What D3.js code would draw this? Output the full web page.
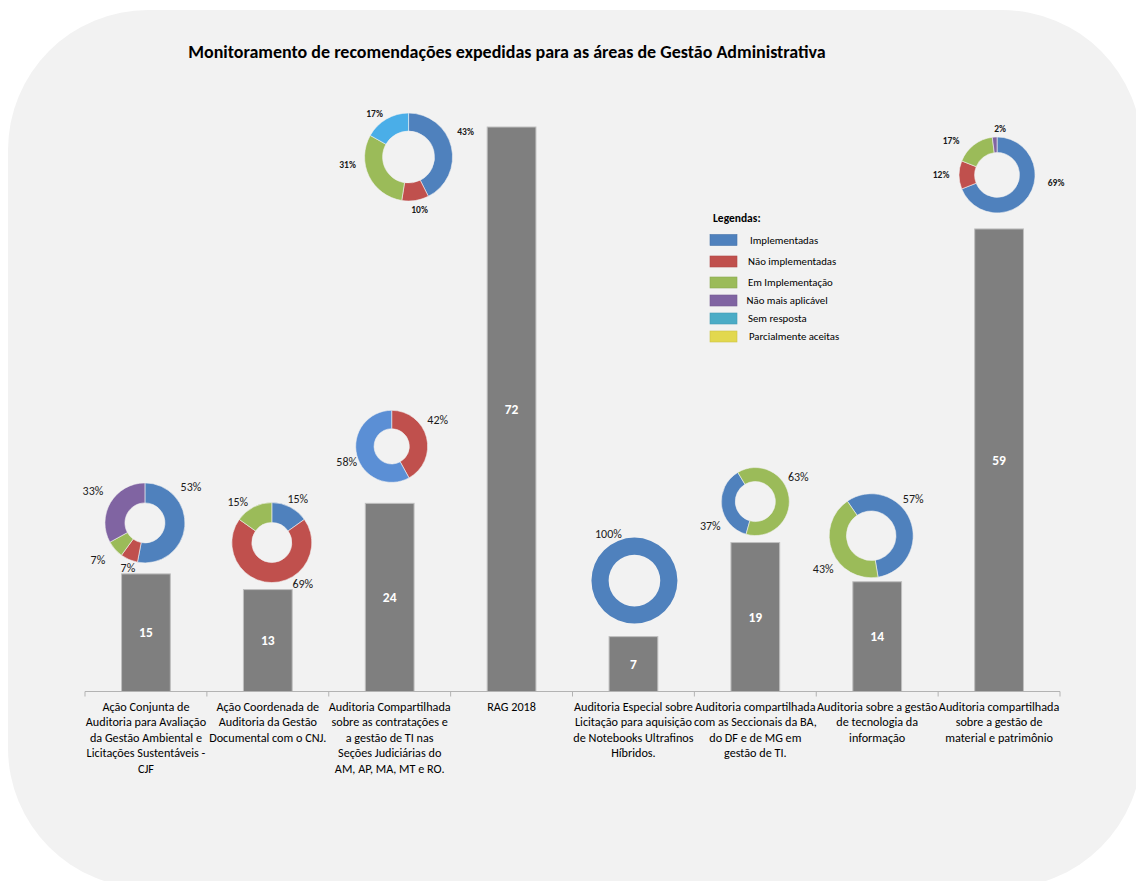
<!DOCTYPE html>
<html lang="pt-BR">
<head>
<meta charset="utf-8">
<title>Monitoramento de recomendações</title>
<script src="https://cdn.jsdelivr.net/npm/d3@7"></script>
<style>
  html, body { margin: 0; padding: 0; background: #ffffff; }
  svg { display: block; font-family: Carlito, Lato, "Open Sans", sans-serif; }
</style>
</head>
<body>
<svg id="chart" width="1136" height="881"></svg>
<script>
// ---- Data -------------------------------------------------------------
const titleText = "Monitoramento de recomendações expedidas para as áreas de Gestão Administrativa";

const categoryLines = [
  ["Ação Conjunta de", "Auditoria para Avaliação", "da Gestão Ambiental e", "Licitações Sustentáveis -", "CJF"],
  ["Ação Coordenada de", "Auditoria da Gestão", "Documental com o CNJ."],
  ["Auditoria Compartilhada", "sobre as contratações e", "a gestão de TI nas", "Seções Judiciárias do", "AM, AP, MA, MT e RO."],
  ["RAG 2018"],
  ["Auditoria Especial sobre", "Licitação para aquisição", "de Notebooks Ultrafinos", "Híbridos."],
  ["Auditoria compartilhada", "com as Seccionais da BA,", "do DF e de MG em", "gestão de TI."],
  ["Auditoria sobre a gestão", "de tecnologia da", "informação"],
  ["Auditoria compartilhada", "sobre a gestão de", "material e patrimônio"]
];

// number of recommendations per audit
const totals = [15, 13, 24, 72, 7, 19, 14, 59];

const statusNames = [
  "Implementadas",
  "Não implementadas",
  "Em Implementação",
  "Não mais aplicável",
  "Sem resposta",
  "Parcialmente aceitas"
];

// status breakdown (%) per audit, as [status index, percent] in drawing order
const breakdown = [
  [[0, 53], [1, 7], [2, 7], [3, 33]],
  [[0, 15], [1, 69], [2, 15]],
  [[1, 42], [0, 58]],
  [[0, 43], [1, 10], [2, 31], [4, 17]],
  [[0, 100]],
  [[0, 37], [2, 63]],
  [[0, 57], [2, 43]],
  [[0, 69], [1, 12], [2, 17], [3, 2]]
];

// ---- Styles & layout --------------------------------------------------
const statusColors = ["#4f81bd", "#c0504d", "#9bbb59", "#8064a2", "#4bacc6", "#e2d84e"];
// a few donuts were coloured with a slightly different shade (key: donut-slice)
const shadeOverride = { "2-1": "#5b8fd5", "3-3": "#4aaee8" };

// donut layout: dx from band centre, gap above bar top, outer radius, inner ratio, start angle (deg), bold labels
const donutLayout = [
  { dx: -1,   gap: 11,  r: 40, inner: 0.5,  start: 0,     bold: false },
  { dx: 4,    gap: 7,   r: 40, inner: 0.5,  start: 0,     bold: false },
  { dx: 2,    gap: 21,  r: 36, inner: 0.49, start: 0,     bold: false },
  { dx: -103, gap: -74, r: 44, inner: 0.59, start: 0,     bold: true  },
  { dx: 1,    gap: 13,  r: 43, inner: 0.6,  start: 0,     bold: false },
  { dx: 0,    gap: 7,   r: 34, inner: 0.59, start: 195.8, bold: false },
  { dx: -6,   gap: 4,   r: 42, inner: 0.59, start: -34.6, bold: false },
  { dx: -2,   gap: 16,  r: 38, inner: 0.59, start: 0,     bold: true  }
];

// label offsets from each donut's centre, same order as the breakdown
const labelOffsets = [
  [[46, -36], [-17, 45], [-47, 37], [-52, -32]],
  [[26, -44], [31, 41], [-34, -41]],
  [[46, -27], [-45, 15]],
  [[57, -25], [11, 53], [-61, 8], [-34, -43]],
  [[-26, -47]],
  [[-45, 24], [43, -25]],
  [[42, -37], [-48, 33]],
  [[59, 8], [-56, 0], [-46, -34], [3, -46]]
];

const svg = d3.select("#chart");

// rounded panel behind the chart
svg.append("rect")
  .attr("x", 8).attr("y", 10)
  .attr("width", 1134).attr("height", 878)
  .attr("rx", 140).attr("ry", 140)
  .attr("fill", "#f2f2f2");

// title
svg.append("text")
  .attr("x", 507).attr("y", 58)
  .attr("text-anchor", "middle")
  .attr("font-weight", "bold")
  .attr("font-size", 18)
  .attr("fill", "#000")
  .text(titleText);

// ---- Scales -----------------------------------------------------------
const idx = d3.range(totals.length);
const x = d3.scaleBand()
  .domain(idx)
  .range([85, 1060])
  .paddingInner(0.6)
  .paddingOuter(0.3);
const step = x.step();
const bandCenter = i => x(i) + x.bandwidth() / 2;

const y = d3.scaleLinear()
  .domain([0, 80])
  .range([691.5, 64.3]);

// ---- Bars -------------------------------------------------------------
const bars = svg.append("g");
bars.selectAll("rect")
  .data(totals)
  .join("rect")
  .attr("x", (d, i) => x(i))
  .attr("y", d => y(d))
  .attr("width", x.bandwidth())
  .attr("height", d => y(0) - y(d))
  .attr("fill", "#7f7f7f")
  .attr("stroke", "#bfbfbf")
  .attr("stroke-width", 1);

bars.selectAll("text")
  .data(totals)
  .join("text")
  .attr("x", (d, i) => bandCenter(i))
  .attr("y", d => (y(d) + y(0)) / 2)
  .attr("dy", "0.35em")
  .attr("text-anchor", "middle")
  .attr("font-weight", "bold")
  .attr("font-size", 13.5)
  .attr("fill", "#ffffff")
  .text(d => d);

// ---- Category axis ----------------------------------------------------
const axisG = svg.append("g");
const x0 = x.range()[0], x1 = x.range()[1];
axisG.append("line")
  .attr("x1", x0).attr("x2", x1)
  .attr("y1", y(0)).attr("y2", y(0))
  .attr("stroke", "#b3b3b3").attr("stroke-width", 1);
axisG.selectAll("line.tick")
  .data(d3.range(totals.length + 1))
  .join("line")
  .attr("class", "tick")
  .attr("x1", k => x0 + k * step).attr("x2", k => x0 + k * step)
  .attr("y1", y(0)).attr("y2", y(0) + 5)
  .attr("stroke", "#b3b3b3").attr("stroke-width", 1);

const catText = axisG.selectAll("text.cat")
  .data(categoryLines)
  .join("text")
  .attr("class", "cat")
  .attr("text-anchor", "middle")
  .attr("font-size", 12.2)
  .attr("fill", "#000");
catText.selectAll("tspan")
  .data((lines, i) => lines.map(l => ({ l, i })))
  .join("tspan")
  .attr("x", d => bandCenter(d.i))
  .attr("y", (d, j) => 710.5 + j * 15.5)
  .text(d => d.l);

// ---- Donuts -----------------------------------------------------------
const deg = Math.PI / 180;
const donuts = svg.append("g");
breakdown.forEach((slices, i) => {
  const L = donutLayout[i];
  const cx = bandCenter(i) + L.dx;
  const cy = y(totals[i]) - L.gap - L.r;
  const g = donuts.append("g").attr("transform", `translate(${cx},${cy})`);

  const pie = d3.pie()
    .sort(null)
    .value(d => d[1])
    .startAngle(L.start * deg)
    .endAngle(L.start * deg + 2 * Math.PI);
  const arc = d3.arc().innerRadius(L.r * L.inner).outerRadius(L.r);

  g.selectAll("path")
    .data(pie(slices))
    .join("path")
    .attr("d", arc)
    .attr("fill", (d, j) => shadeOverride[`${i}-${j}`] || statusColors[d.data[0]])
    .attr("stroke", slices.length > 1 ? "#f2f2f2" : "none")
    .attr("stroke-width", 0.6);

  g.selectAll("text")
    .data(slices)
    .join("text")
    .attr("x", (d, j) => labelOffsets[i][j][0])
    .attr("y", (d, j) => labelOffsets[i][j][1])
    .attr("dy", "0.35em")
    .attr("text-anchor", "middle")
    .attr("font-size", L.bold ? 9.5 : 12)
    .attr("font-weight", L.bold ? "bold" : "normal")
    .attr("fill", "#1a1a1a")
    .text(d => d[1] + "%");
});

// ---- Legend -----------------------------------------------------------
const legend = svg.append("g");
legend.append("text")
  .attr("x", 713).attr("y", 222)
  .attr("font-weight", "bold")
  .attr("font-size", 11.5)
  .attr("fill", "#000")
  .text("Legendas:");

const legendRowY = [240, 261.5, 282.5, 300.5, 318.5, 336.5];
const legendTextX = [750, 748, 748, 746.5, 748, 749];
const rows = legend.selectAll("g.row")
  .data(statusNames)
  .join("g")
  .attr("class", "row");
rows.append("rect")
  .attr("x", 710)
  .attr("y", (d, i) => legendRowY[i] - 5.5)
  .attr("width", 27).attr("height", 11)
  .attr("fill", (d, i) => statusColors[i])
  .attr("stroke", (d, i) => d3.color(statusColors[i]).darker(0.3))
  .attr("stroke-width", 0.6);
rows.append("text")
  .attr("x", (d, i) => legendTextX[i])
  .attr("y", (d, i) => legendRowY[i])
  .attr("dy", "0.35em")
  .attr("font-size", 10.8)
  .attr("fill", "#000")
  .text(d => d);
</script>
</body>
</html>
